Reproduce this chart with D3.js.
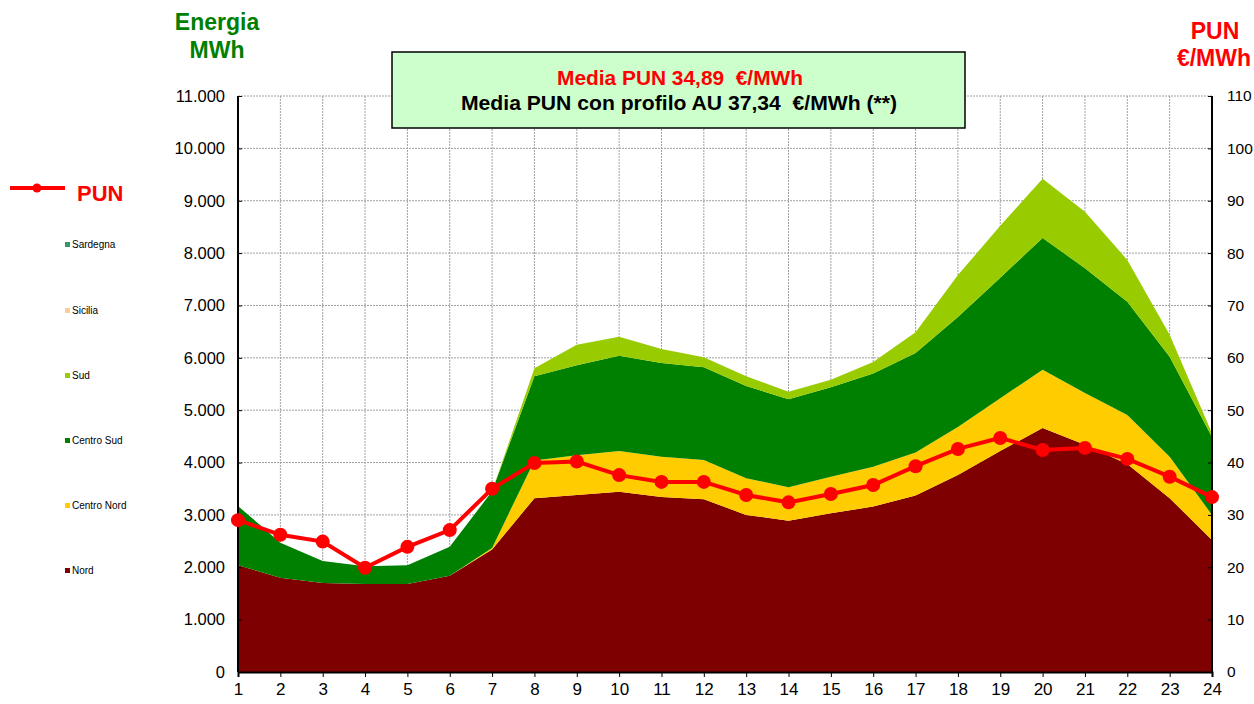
<!DOCTYPE html>
<head>
<meta charset='utf-8'>
<style>
  body { margin: 0; background: #fff; font-family: 'Liberation Sans', Arial, sans-serif; }
  .grid line { stroke: #a0a0a0; stroke-width: 1; stroke-dasharray: 2,1; }
  .tick text { fill: #000; }
</style>
</head>
<body>
<div id='vis'></div>
<script src='https://cdn.jsdelivr.net/npm/d3@7/dist/d3.min.js'></script>
<script>
  const hours = d3.range(1, 25)
  const zones = ['Nord', 'Centro Nord', 'Centro Sud', 'Sud', 'Sicilia', 'Sardegna']
  const zoneColors = ['#7f0000', '#ffcc00', '#008000', '#99cc00', '#ffcc99', '#339966']

  const nord = [2040, 1800, 1700, 1680, 1680, 1840, 2340, 3320, 3380, 3440, 3340, 3300, 3000, 2890, 3030, 3160, 3370, 3760, 4220, 4660, 4340, 3970, 3320, 2520]
  const centroNord = [0, 0, 0, 0, 0, 0, 30, 720, 760, 780, 770, 750, 700, 640, 700, 760, 820, 920, 1010, 1110, 990, 940, 790, 480]
  const centroSud = [1130, 670, 420, 340, 360, 550, 1080, 1610, 1720, 1820, 1790, 1770, 1760, 1680, 1710, 1780, 1900, 2100, 2300, 2520, 2380, 2160, 1910, 1490]
  const sud = [0, 0, 0, 0, 0, 0, 0, 150, 390, 360, 270, 190, 190, 140, 140, 220, 400, 800, 990, 1130, 1080, 800, 420, 70]
  const sicilia = [0, 0, 0, 0, 0, 0, 0, 0, 0, 0, 0, 0, 0, 0, 0, 0, 0, 0, 0, 0, 0, 0, 0, 0]
  const sardegna = [0, 0, 0, 0, 0, 0, 0, 0, 0, 0, 0, 0, 0, 0, 0, 0, 0, 0, 0, 0, 0, 0, 0, 0]
  const pun = [29.0, 26.2, 24.9, 19.9, 23.9, 27.1, 35.0, 39.9, 40.2, 37.6, 36.3, 36.3, 33.8, 32.4, 34.0, 35.7, 39.3, 42.6, 44.7, 42.4, 42.8, 40.7, 37.3, 33.4]

  const leftTicks = d3.range(0, 11001, 1000)
  const rightTicks = d3.range(0, 111, 10)

  const W = 1254, H = 704
  const m = {left: 238, right: 1212, top: 96, bottom: 672}

  const svg = d3.select('#vis').append('svg')
    .attr('width', W).attr('height', H)

  const x = d3.scaleLinear().domain([1, 24]).range([m.left, m.right])
  const y = d3.scaleLinear().domain([0, 11000]).range([m.bottom, m.top])
  const y2 = d3.scaleLinear().domain([0, 110]).range([m.bottom, m.top])

  // griglia
  const grid = svg.append('g').attr('class', 'grid')
  grid.selectAll('.h').data(leftTicks.slice(1)).enter().append('line')
    .attr('x1', m.left).attr('x2', m.right)
    .attr('y1', d => y(d)).attr('y2', d => y(d))
  grid.selectAll('.v').data(hours.slice(1, -1)).enter().append('line')
    .attr('x1', d => x(d)).attr('x2', d => x(d))
    .attr('y1', m.top).attr('y2', m.bottom)

  // aree impilate
  const table = hours.map((h, i) => ({
    h: h, 'Nord': nord[i], 'Centro Nord': centroNord[i], 'Centro Sud': centroSud[i],
    'Sud': sud[i], 'Sicilia': sicilia[i], 'Sardegna': sardegna[i]
  }))
  const series = d3.stack().keys(zones)(table)
  const area = d3.area()
    .x(d => x(d.data.h))
    .y0(d => y(d[0]))
    .y1(d => y(d[1]))

  svg.append('g').selectAll('path').data(series).enter().append('path')
    .attr('d', area)
    .attr('fill', (d, i) => zoneColors[i])

  // assi
  const axL = svg.append('g').attr('transform', `translate(${m.left},0)`)
    .call(d3.axisLeft(y).tickValues(leftTicks).tickSize(-4).tickPadding(13)
      .tickFormat(d => d3.format(',')(d).replace(/,/g, '.')))
  const axR = svg.append('g').attr('transform', `translate(${m.right},0)`)
    .call(d3.axisRight(y2).tickValues(rightTicks).tickSize(-4).tickPadding(15))
  const axB = svg.append('g').attr('transform', `translate(0,${m.bottom})`)
    .call(d3.axisBottom(x).tickValues(hours).tickSize(5).tickPadding(6))

  ;[axL, axR, axB].forEach(a => {
    a.select('.domain').attr('stroke', '#000').attr('stroke-width', 2)
    a.selectAll('.tick line').attr('stroke', '#000')
    a.selectAll('.tick text').attr('font-family', "'Liberation Sans', Arial, sans-serif")
  })
  axL.selectAll('.tick text').attr('font-size', 16.5)
  axR.selectAll('.tick text').attr('font-size', 15.5)
  axB.selectAll('.tick text').attr('font-size', 17)
  axL.select('.domain').attr('d', `M0,${m.top}V${m.bottom}`)
  axR.select('.domain').attr('d', `M0,${m.top}V${m.bottom}`)

  // linea PUN
  const line = d3.line().x((d, i) => x(hours[i])).y(d => y2(d))
  svg.append('path').datum(pun)
    .attr('d', line)
    .attr('fill', 'none')
    .attr('stroke', '#ff0000')
    .attr('stroke-width', 4)
  svg.append('g').selectAll('circle').data(pun).enter().append('circle')
    .attr('cx', (d, i) => x(hours[i]))
    .attr('cy', d => y2(d))
    .attr('r', 7)
    .attr('fill', '#ff0000')

  // titoli assi
  const tEn = svg.append('text').attr('text-anchor', 'middle').attr('fill', '#008000')
    .attr('font-weight', 'bold').attr('font-size', 23)
  tEn.append('tspan').attr('x', 217).attr('y', 30).text('Energia')
  tEn.append('tspan').attr('x', 217).attr('y', 58).text('MWh')

  const tPun = svg.append('text').attr('text-anchor', 'middle').attr('fill', '#ff0000')
    .attr('font-weight', 'bold').attr('font-size', 23)
  tPun.append('tspan').attr('x', 1215).attr('y', 39).text('PUN')
  tPun.append('tspan').attr('x', 1214).attr('y', 66).text('€/MWh')

  // riquadro medie
  svg.append('rect')
    .attr('x', 392).attr('y', 52).attr('width', 573).attr('height', 76)
    .attr('fill', '#ccffcc').attr('stroke', '#000').attr('stroke-width', 1.5)
  svg.append('text').attr('x', 680).attr('y', 85).attr('text-anchor', 'middle')
    .attr('fill', '#ff0000').attr('font-weight', 'bold').attr('font-size', 20)
    .attr('textLength', 246).attr('lengthAdjust', 'spacingAndGlyphs')
    .text('Media PUN 34,89\u00a0 €/MWh')
  svg.append('text').attr('x', 679).attr('y', 110).attr('text-anchor', 'middle')
    .attr('fill', '#000').attr('font-weight', 'bold').attr('font-size', 20)
    .attr('textLength', 436).attr('lengthAdjust', 'spacingAndGlyphs')
    .text('Media PUN con profilo AU 37,34\u00a0 €/MWh (**)')

  // legenda
  const lg = svg.append('g')
  lg.append('line').attr('x1', 10).attr('x2', 65).attr('y1', 188).attr('y2', 188)
    .attr('stroke', '#ff0000').attr('stroke-width', 4)
  lg.append('circle').attr('cx', 37).attr('cy', 188).attr('r', 4.5).attr('fill', '#ff0000')
  lg.append('text').attr('x', 77).attr('y', 201).attr('fill', '#ff0000')
    .attr('font-weight', 'bold').attr('font-size', 22).text('PUN')

  const legendY = [571, 506, 441, 376, 311, 245]
  const items = lg.selectAll('.item').data(zones).enter().append('g')
    .attr('transform', (d, i) => `translate(65,${legendY[i]})`)
  items.append('rect').attr('x', 0).attr('y', -3).attr('width', 5).attr('height', 5)
    .attr('fill', (d, i) => zoneColors[i])
  items.append('text').attr('x', 7).attr('y', 3).attr('font-size', 10).attr('fill', '#000')
    .text(d => d)
</script>
</body>
